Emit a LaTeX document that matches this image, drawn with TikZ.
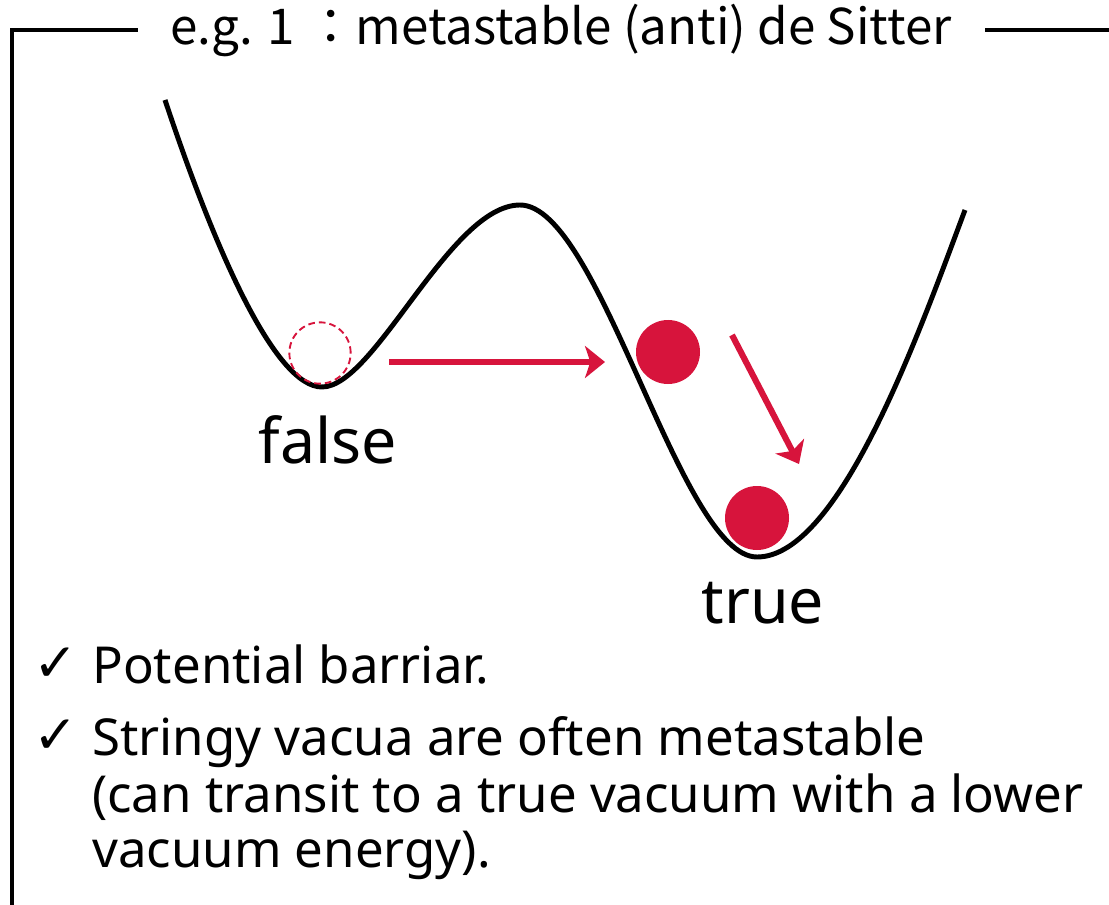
\documentclass[tikz,border=0pt]{standalone}
\usepackage{fontspec}
\setmainfont{Noto Sans}
\newfontfamily\jpfont{Noto Sans CJK JP}
\newfontfamily\symfont{DejaVu Sans}
\definecolor{vred}{HTML}{D7143C}
\usetikzlibrary{arrows.meta}
\begin{document}
\begin{tikzpicture}[x=0.75pt,y=-0.75pt,
  frameline/.style={line width=2.4pt},
  pot/.style={line width=3.7pt},
  ball/.style={fill=vred,draw=none},
  ghost/.style={draw=vred,dashed,line width=1.4pt,dash pattern=on 5pt off 3pt},
  move/.style={draw=vred,line width=4.6pt,-{Stealth[length=15pt,width=24pt,inset=4pt]}},
  lab/.style={font=\fontsize{47}{52}\selectfont,inner sep=0pt},
  item/.style={font=\fontsize{38.2}{42}\selectfont,anchor=base west,inner sep=0pt},
  chk/.style={font=\symfont\fontsize{40}{44}\selectfont,anchor=base west,inner sep=0pt}]
\useasboundingbox (0,0) rectangle (1109,905);
\node[inner sep=0pt,font=\jpfont\fontsize{37}{42}\selectfont] (title) at (561,30) {e.g. 1 ：metastable (anti) de Sitter};
\coordinate (fb) at (12,905);
\coordinate (fc) at (12,30);
\coordinate (tl) at (138,30);
\coordinate (tr) at (985,30);
\coordinate (fe) at (1109,30);
\draw[frameline] (fb) -- (fc) -- (tl);
\draw[frameline] (tr) -- (fe);
% potential
\draw[pot] (165,100) .. controls (215,250) and (275,387) .. (322,387)
  .. controls (375,387) and (450,205) .. (520,205)
  .. controls (600,205) and (680,557) .. (757,557)
  .. controls (840,557) and (920,330) .. (965,210);
\node[ghost,circle,minimum size=46pt,inner sep=0pt] (fv) at (320,353) {};
\node[ball,circle,minimum size=48pt,inner sep=0pt] (mid) at (668,352) {};
\node[ball,circle,minimum size=48pt,inner sep=0pt] (tv) at (757,518) {};
\coordinate (a1s) at (389,362);
\coordinate (a1e) at (605,362);
\coordinate (a2s) at (732,335);
\coordinate (a2e) at (799,464);
\draw[move] (a1s) -- (a1e);
\draw[move] (a2s) -- (a2e);
\node[lab] (false) at (328,440) {false};
\node[lab] (true) at (763,603) {true};
% bullets
\node[chk] (c1) at (33,681) {✓};
\node[item] (l1) at (92,683) {Potential barriar.};
\node[chk] (c2) at (33,753) {✓};
\node[item] (l2) at (92,755) {Stringy vacua are often metastable};
\node[item] (l3) at (92,812) {(can transit to a true vacuum with a lower};
\node[item] (l4) at (92,867) {vacuum energy).};
\end{tikzpicture}
\end{document}
